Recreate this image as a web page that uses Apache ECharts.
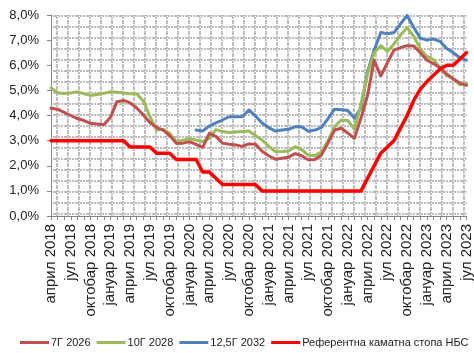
<!DOCTYPE html>
<html>
<head>
<meta charset="utf-8">
<script src="https://cdn.jsdelivr.net/npm/echarts@6/dist/echarts.min.js"></script>
<style>
  html, body { margin: 0; padding: 0; background: #fff; }
  #chart { width: 474px; height: 353px; }
</style>
</head>
<body>
<div id="chart"></div>
<script>
// Monthly series, April 2018 – July 2023 (yields and policy rate, in %)
const monthNames = ['јануар', 'фебруар', 'март', 'април', 'мај', 'јун',
                    'јул', 'август', 'септембар', 'октобар', 'новембар', 'децембар'];
const startYear = 2018, startMonth = 3, monthCount = 64;

const seriesNames = ['7Г 2026', '10Г 2028', '12,5Г 2032', 'Референтна каматна стопа НБС'];

const bond2026 = [
  4.29, 4.25, 4.12, 4.00, 3.88, 3.80, 3.69, 3.66, 3.63, 3.92, 4.55, 4.60,
  4.50, 4.30, 4.02, 3.72, 3.53, 3.42, 3.20, 2.89, 2.90, 2.96, 2.85, 2.73,
  3.29, 3.17, 2.90, 2.86, 2.83, 2.77, 2.87, 2.86, 2.58, 2.40, 2.26, 2.30,
  2.34, 2.48, 2.40, 2.24, 2.25, 2.43, 2.90, 3.42, 3.49, 3.30, 3.09, 3.90,
  4.80, 6.20, 5.57, 6.10, 6.60, 6.70, 6.78, 6.77, 6.50, 6.20, 6.06, 5.90,
  5.65, 5.45, 5.29, 5.20
];

const bond2028 = [
  5.10, 4.91, 4.88, 4.90, 4.95, 4.86, 4.80, 4.84, 4.88, 4.95, 4.93, 4.90,
  4.87, 4.86, 4.58, 3.96, 3.42, 3.45, 3.29, 2.96, 3.02, 3.08, 3.02, 2.96,
  3.09, 3.44, 3.36, 3.32, 3.34, 3.36, 3.38, 3.20, 3.02, 2.78, 2.56, 2.57,
  2.59, 2.76, 2.64, 2.42, 2.41, 2.55, 3.00, 3.55, 3.82, 3.80, 3.46, 4.45,
  5.65, 6.50, 6.78, 6.55, 6.85, 7.20, 7.50, 7.15, 6.65, 6.35, 6.22, 5.90,
  5.58, 5.48, 5.22, 5.27
];

const bond2032 = [
  null, null, null, null, null, null, null, null, null, null, null, null,
  null, null, null, null, null, null, null, null, null, null, 3.42, 3.38,
  3.58, 3.71, 3.82, 3.95, 3.95, 3.95, 4.22, 3.98, 3.70, 3.52, 3.38, 3.42,
  3.45, 3.55, 3.55, 3.37, 3.42, 3.52, 3.88, 4.25, 4.23, 4.20, 3.90, 4.30,
  5.75, 6.60, 7.30, 7.25, 7.30, 7.65, 7.98, 7.50, 7.08, 7.00, 7.04, 6.95,
  6.67, 6.50, 6.30, 6.20
];

const policyRate = [
  3.00, 3.00, 3.00, 3.00, 3.00, 3.00, 3.00, 3.00, 3.00, 3.00, 3.00, 3.00,
  2.75, 2.75, 2.75, 2.75, 2.50, 2.50, 2.50, 2.25, 2.25, 2.25, 2.25, 1.75,
  1.75, 1.50, 1.25, 1.25, 1.25, 1.25, 1.25, 1.25, 1.00, 1.00, 1.00, 1.00,
  1.00, 1.00, 1.00, 1.00, 1.00, 1.00, 1.00, 1.00, 1.00, 1.00, 1.00, 1.00,
  1.50, 2.00, 2.50, 2.75, 3.00, 3.50, 4.00, 4.60, 5.05, 5.35, 5.60, 5.85,
  6.00, 6.00, 6.25, 6.50
];

const colors = ['#C0504D', '#9BBB59', '#4F81BD', '#FF0000'];

// Category labels: "месец година"
const categories = [];
for (let k = 0; k < monthCount; k++) {
  const m = (startMonth + k) % 12;
  const y = startYear + Math.floor((startMonth + k) / 12);
  categories.push(monthNames[m] + ' ' + y);
}

// Dotted-grid fill for the plot area
function gridPattern() {
  const size = 11;
  const c = document.createElement('canvas');
  c.width = size; c.height = size;
  const g = c.getContext('2d');
  g.fillStyle = '#ffffff';
  g.fillRect(0, 0, size, size);
  g.fillStyle = '#bdbdbd';
  for (let p = 0; p < size; p += 3) {
    g.fillRect(1, p, 2, 2);      // vertical dotted line
    g.fillRect(p, 4, 2, 2);      // horizontal dotted line
  }
  return { image: c, repeat: 'repeat' };
}

const chart = echarts.init(document.getElementById('chart'), null, { renderer: 'canvas' });

const fontFamily = '"Liberation Sans", Arial, sans-serif';

const lineSeries = [bond2026, bond2028, bond2032, policyRate].map((data, idx) => ({
  name: seriesNames[idx],
  type: 'line',
  data: data,
  showSymbol: false,
  symbol: 'none',
  connectNulls: false,
  z: idx === 3 ? 4 : 3 - idx,
  lineStyle: {
    color: colors[idx],
    width: idx === 3 ? 3.5 : 3,
    cap: 'round',
    join: 'round'
  },
  itemStyle: { color: colors[idx] }
}));

chart.setOption({
  animation: false,
  backgroundColor: '#ffffff',
  textStyle: { fontFamily: fontFamily },
  grid: {
    left: 51,
    right: 1,
    top: 15,
    bottom: 137,
    show: true,
    backgroundColor: gridPattern(),
    borderWidth: 0
  },
  legend: {
    top: 337,
    left: 20,
    width: 700,
    padding: 0,
    itemWidth: 29,
    itemHeight: 3,
    itemGap: 6,
    icon: 'rect',
    textStyle: { fontSize: 11, color: '#222', padding: [0, 0, 0, -3] },
    data: seriesNames
  },
  xAxis: {
    type: 'category',
    data: categories,
    boundaryGap: false,
    axisLine: { lineStyle: { color: '#868686', width: 1 } },
    axisTick: {
      show: true,
      interval: 0,
      length: 4,
      lineStyle: { color: '#868686' }
    },
    axisLabel: {
      interval: 2,
      rotate: 90,
      margin: 8,
      fontSize: 15,
      color: '#222'
    },
    splitLine: { show: false }
  },
  yAxis: {
    type: 'value',
    min: 0,
    max: 8,
    interval: 1,
    axisLine: { show: true, lineStyle: { color: '#868686', width: 1 } },
    axisTick: { show: true, length: 4, lineStyle: { color: '#868686' } },
    axisLabel: {
      margin: 12,
      fontSize: 13,
      color: '#222',
      formatter: v => v.toFixed(1).replace('.', ',') + '%'
    },
    splitLine: { show: false }
  },
  series: lineSeries
});
</script>
</body>
</html>
